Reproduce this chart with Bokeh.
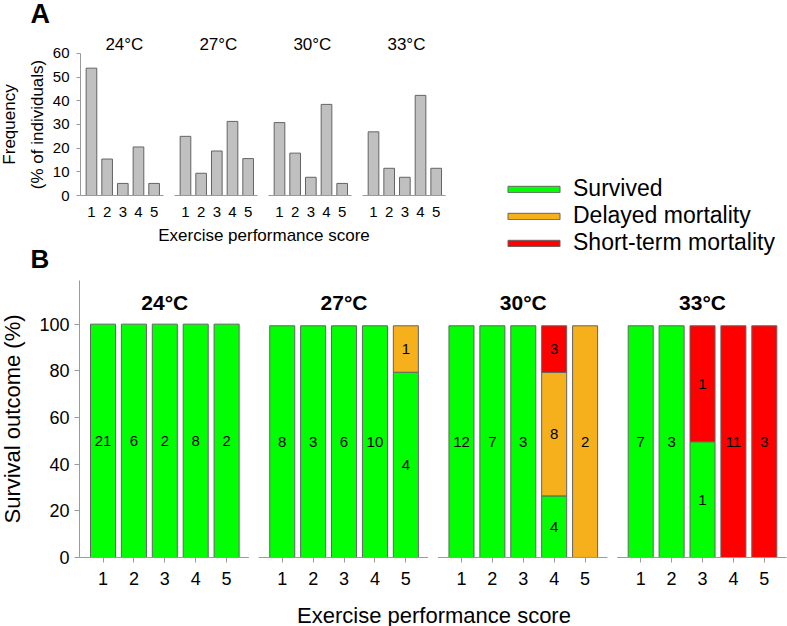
import math
from bokeh.plotting import figure
from bokeh.models import FixedTicker, Label, Legend, LegendItem, LinearAxis, Range1d
from bokeh.embed import file_html
from bokeh.resources import INLINE
from bokeh.core.properties import value

FONT = "Liberation Sans"

# ---------------- data ----------------
temps = ["24°C", "27°C", "30°C", "33°C"]
scores = [1, 2, 3, 4, 5]

# Panel A: frequency (% of individuals) per exercise performance score
freq_24 = [53.8, 15.4, 5.1, 20.5, 5.1]
freq_27 = [25.0, 9.4, 18.8, 31.3, 15.6]
freq_30 = [30.8, 17.9, 7.7, 38.5, 5.1]
freq_33 = [26.9, 11.5, 7.7, 42.3, 11.5]

# Panel B: survival outcome (%) per score
surv_24 = [100, 100, 100, 100, 100]
delay_24 = [0, 0, 0, 0, 0]
short_24 = [0, 0, 0, 0, 0]
surv_27 = [99.3, 99.3, 99.3, 99.3, 79.4]
delay_27 = [0, 0, 0, 0, 19.9]
short_27 = [0, 0, 0, 0, 0]
surv_30 = [99.3, 99.3, 99.3, 26.4, 0]
delay_30 = [0, 0, 0, 52.9, 99.3]
short_30 = [0, 0, 0, 20.0, 0]
surv_33 = [99.3, 99.3, 49.6, 0, 0]
delay_33 = [0, 0, 0, 0, 0]
short_33 = [0, 0, 49.7, 99.3, 99.3]

# Panel B: counts of individuals
n_surv_24 = [21, 6, 2, 8, 2]
n_delay_24 = [0, 0, 0, 0, 0]
n_short_24 = [0, 0, 0, 0, 0]
n_surv_27 = [8, 3, 6, 10, 4]
n_delay_27 = [0, 0, 0, 0, 1]
n_short_27 = [0, 0, 0, 0, 0]
n_surv_30 = [12, 7, 3, 4, 0]
n_delay_30 = [0, 0, 0, 8, 2]
n_short_30 = [0, 0, 0, 3, 0]
n_surv_33 = [7, 3, 1, 0, 0]
n_delay_33 = [0, 0, 0, 0, 0]
n_short_33 = [0, 0, 1, 11, 3]

outcomes = ["Survived", "Delayed mortality", "Short-term mortality"]
colors = ["#00FF00", "#F5B01C", "#FF0000"]

freqs = [freq_24, freq_27, freq_30, freq_33]
pcts = [[surv_24, delay_24, short_24], [surv_27, delay_27, short_27],
        [surv_30, delay_30, short_30], [surv_33, delay_33, short_33]]
counts = [[n_surv_24, n_delay_24, n_short_24], [n_surv_27, n_delay_27, n_short_27],
          [n_surv_30, n_delay_30, n_short_30], [n_surv_33, n_delay_33, n_short_33]]

AXIS_GRAY = "#9a9a9a"
BAR_EDGE = "#646464"

W, H = 787, 626

# panel B coordinates are the default ranges; panel A uses extra ranges
p = figure(width=W, height=H,
           x_range=Range1d(-23.17, 231.5), y_range=Range1d(-29.57, 238.7),
           x_axis_location=None, y_axis_location=None,
           output_backend="svg", toolbar_location=None,
           min_border=0, min_border_left=0, min_border_right=0,
           min_border_top=0, min_border_bottom=0)
p.outline_line_color = None
p.grid.visible = False
p.extra_x_ranges = {"xa": Range1d(-4.805, 45.42)}
p.extra_y_ranges = {"ya": Range1d(-182.1, 82.39)}

# ---------------- panel A ----------------
GA = 6  # group step in score units
xa, ya = [], []
for g in range(len(temps)):
    for i, s in enumerate(scores):
        xa.append(g * GA + s)
        ya.append(freqs[g][i])
p.vbar(x=xa, top=ya, bottom=0, width=0.68, fill_color="#C0C0C0", line_color=BAR_EDGE,
       line_width=1, x_range_name="xa", y_range_name="ya")

p.segment(x0=[g * GA + 0.3 for g in range(len(temps))], x1=[g * GA + 5.6 for g in range(len(temps))],
          y0=[0] * len(temps), y1=[0] * len(temps), line_color=AXIS_GRAY, line_width=1,
          x_range_name="xa", y_range_name="ya")

p.text(x=[g * GA + 3.1 for g in range(len(temps))], y=[63.8] * len(temps), text=temps,
       text_align="center", text_baseline="middle", text_font=value(FONT), text_font_size="17px",
       text_color="black", x_range_name="xa", y_range_name="ya")

yaxA = LinearAxis(x_range_name="xa", y_range_name="ya", fixed_location=0.3,
                  ticker=FixedTicker(ticks=[0, 10, 20, 30, 40, 50, 60]), bounds=(0, 60),
                  axis_label="Frequency\n(% of individuals)")
yaxA.axis_line_color = AXIS_GRAY
yaxA.major_tick_line_color = AXIS_GRAY
yaxA.major_tick_out = 4
yaxA.major_tick_in = 0
yaxA.minor_tick_line_color = None
yaxA.major_label_text_font = FONT
yaxA.major_label_text_font_size = "15px"
yaxA.major_label_text_color = "black"
yaxA.major_label_standoff = 7
yaxA.axis_label_text_font = FONT
yaxA.axis_label_text_font_size = "17px"
yaxA.axis_label_text_font_style = "normal"
yaxA.axis_label_text_color = "black"
yaxA.axis_label_text_line_height = 1.45
yaxA.axis_label_standoff = 3
p.add_layout(yaxA, "left")

xaxA = LinearAxis(x_range_name="xa", y_range_name="ya", fixed_location=0,
                  ticker=FixedTicker(ticks=xa), bounds=(xa[0], xa[-1]),
                  axis_label="Exercise performance score")
xaxA.major_label_overrides = {x: str(scores[k % 5]) for k, x in enumerate(xa)}
xaxA.axis_line_color = None
xaxA.major_tick_line_color = None
xaxA.major_tick_out = 0
xaxA.major_tick_in = 0
xaxA.minor_tick_line_color = None
xaxA.major_label_text_font = FONT
xaxA.major_label_text_font_size = "15px"
xaxA.major_label_text_color = "black"
xaxA.major_label_standoff = 11
xaxA.axis_label_text_font = FONT
xaxA.axis_label_text_font_size = "17px"
xaxA.axis_label_text_font_style = "normal"
xaxA.axis_label_text_color = "black"
xaxA.axis_label_standoff = 6
p.add_layout(xaxA, "below")

# ---------------- panel B ----------------
GB, SB = 58, 10  # group step and score step
xb = []
rend_by_outcome = []
lx, ly, lt = [], [], []
for k in range(3):
    bx, bb, bt = [], [], []
    for g in range(len(temps)):
        for i, s in enumerate(scores):
            x = g * GB + s * SB
            base = sum(pcts[g][j][i] for j in range(k))
            h = pcts[g][k][i]
            if h > 0:
                bx.append(x); bb.append(base); bt.append(base + h)
                lx.append(x); ly.append(base + h / 2); lt.append(str(counts[g][k][i]))
    r = p.vbar(x=bx, bottom=bb, top=bt, width=8.1, fill_color=colors[k], line_color=BAR_EDGE, line_width=1)
    rend_by_outcome.append(r)
for g in range(len(temps)):
    for s in scores:
        xb.append(g * GB + s * SB)

p.text(x=lx, y=ly, text=lt, text_align="center", text_baseline="middle",
       text_font=value(FONT), text_font_size="15px", text_color="black")

p.segment(x0=[g * GB + 2.4 for g in range(len(temps))], x1=[g * GB + 57.2 for g in range(len(temps))],
          y0=[0] * len(temps), y1=[0] * len(temps), line_color=AXIS_GRAY, line_width=1)

p.text(x=[g * GB + 3 * SB for g in range(len(temps))], y=[109.3] * len(temps), text=temps,
       text_align="center", text_baseline="middle", text_font=value(FONT), text_font_size="21px",
       text_font_style="bold", text_color="black")

yaxB = LinearAxis(fixed_location=2.4, ticker=FixedTicker(ticks=[0, 20, 40, 60, 80, 100]),
                  bounds=(0, 118.7), axis_label="Survival outcome (%)")
yaxB.axis_line_color = AXIS_GRAY
yaxB.major_tick_line_color = AXIS_GRAY
yaxB.major_tick_out = 5
yaxB.major_tick_in = 0
yaxB.minor_tick_line_color = None
yaxB.major_label_text_font = FONT
yaxB.major_label_text_font_size = "18px"
yaxB.major_label_text_color = "black"
yaxB.major_label_standoff = 5
yaxB.axis_label_text_font = FONT
yaxB.axis_label_text_font_size = "22px"
yaxB.axis_label_text_font_style = "normal"
yaxB.axis_label_text_color = "black"
yaxB.axis_label_standoff = 11
p.add_layout(yaxB, "left")

xaxB = LinearAxis(fixed_location=0, ticker=FixedTicker(ticks=xb), bounds=(xb[0], xb[-1]),
                  axis_label="Exercise performance score")
xaxB.major_label_overrides = {x: str(scores[k % 5]) for k, x in enumerate(xb)}
xaxB.axis_line_color = None
xaxB.major_tick_line_color = AXIS_GRAY
xaxB.major_tick_out = 5
xaxB.major_tick_in = 0
xaxB.minor_tick_line_color = None
xaxB.major_label_text_font = FONT
xaxB.major_label_text_font_size = "18px"
xaxB.major_label_text_color = "black"
xaxB.major_label_standoff = 10
xaxB.axis_label_text_font = FONT
xaxB.axis_label_text_font_size = "22px"
xaxB.axis_label_text_font_style = "normal"
xaxB.axis_label_text_color = "black"
xaxB.axis_label_standoff = 14
p.add_layout(xaxB, "below")

# ---------------- legend and panel letters ----------------
legend = Legend(items=[LegendItem(label=n, renderers=[r]) for n, r in zip(outcomes, rend_by_outcome)],
                location=(501, 370), glyph_width=65, glyph_height=8,
                label_standoff=7, padding=0, margin=0, spacing=0, label_height=25,
                label_text_font=FONT, label_text_font_size="23px", label_text_color="black",
                border_line_color=None, background_fill_alpha=0)
p.add_layout(legend)

p.add_layout(Label(x=30, y=H - 13, x_units="screen", y_units="screen", text="A",
                   text_align="left", text_baseline="alphabetic", text_font=FONT,
                   text_font_size="27px", text_font_style="bold", text_color="black"))
p.add_layout(Label(x=30, y=H - 258, x_units="screen", y_units="screen", text="B",
                   text_align="left", text_baseline="alphabetic", text_font=FONT,
                   text_font_size="26px", text_font_style="bold", text_color="black"))

open("out.html", "w").write(file_html(p, INLINE))
